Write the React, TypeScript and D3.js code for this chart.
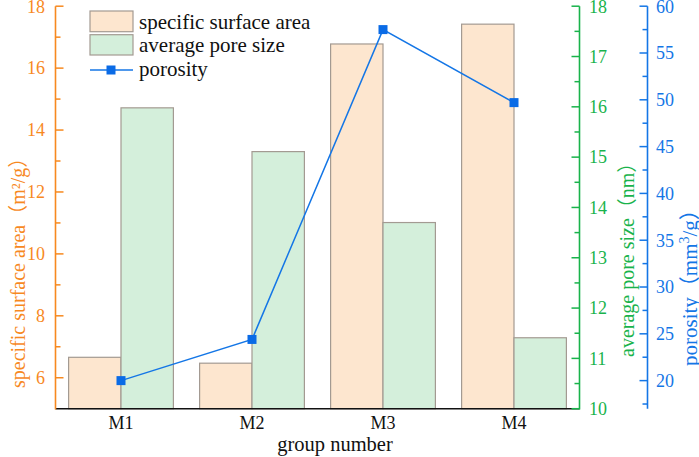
import React from "react";
import * as d3 from "d3";

const categories = ["M1", "M2", "M3", "M4"];
const surfaceArea = [6.66, 6.47, 16.78, 17.42];
const poreSize = [15.98, 15.11, 13.7, 11.41];
const porosity = [20.0, 24.4, 57.5, 49.7];

const leftTicks = [6, 8, 10, 12, 14, 16, 18];
const leftMinor = [7, 9, 11, 13, 15, 17];
const greenTicks = [10, 11, 12, 13, 14, 15, 16, 17, 18];
const greenMinor = [10.5, 11.5, 12.5, 13.5, 14.5, 15.5, 16.5, 17.5];
const blueTicks = [20, 25, 30, 35, 40, 45, 50, 55, 60];
const blueMinor = [17.5, 22.5, 27.5, 32.5, 37.5, 42.5, 47.5, 52.5, 57.5];

const ORANGE = "#F7891F";
const GREEN = "#19B34B";
const BLUE = "#1476E6";
const FONT = "'Liberation Serif', 'Noto Sans CJK SC', serif";

export default function App() {
  const W = 699, H = 457;
  const left = 55.5, right = 579.5, top = 6.2, bottom = 408.7;
  const blueX = 647.5;

  const x = d3.scaleBand<string>().domain(categories).range([left, right]).paddingInner(0.2).paddingOuter(0.1);
  const barW = x.bandwidth() / 2;
  const yL = d3.scaleLinear().domain([5, 18]).range([bottom, top]);
  const yG = d3.scaleLinear().domain([10, 18]).range([bottom, top]);
  const yB = d3.scaleLinear().domain([17, 60]).range([bottom, top]);

  const center = (c: string) => (x(c) as number) + barW;
  const line = d3.line<number>().x((_, i) => center(categories[i])).y((d) => yB(d));

  const barStroke = "#A39A92";
  const tf = { fontFamily: FONT };

  return (
    <svg width={W} height={H} style={{ position: "fixed", left: 0, top: 0, background: "#fff", fontFamily: FONT }}>
      {categories.map((c, i) => (
        <g key={c}>
          <rect x={x(c)} y={yL(surfaceArea[i])} width={barW} height={bottom - yL(surfaceArea[i])}
            fill="#FDE6CF" stroke={barStroke} strokeWidth={1.2} />
          <rect x={(x(c) as number) + barW} y={yG(poreSize[i])} width={barW} height={bottom - yG(poreSize[i])}
            fill="#D4EFDB" stroke={barStroke} strokeWidth={1.2} />
        </g>
      ))}

      <path d={line(porosity) || ""} fill="none" stroke={BLUE} strokeWidth={1.5} />
      {porosity.map((v, i) => (
        <rect key={i} x={center(categories[i]) - 4.5} y={yB(v) - 4.5} width={9} height={9} fill="#0A6BE6" />
      ))}

      <line x1={left} x2={right} y1={bottom} y2={bottom} stroke="#111" strokeWidth={1.6} />
      {categories.map((c) => (
        <text key={c} x={center(c)} y={429} fontSize={18} textAnchor="middle" fill="#111" style={tf}>{c}</text>
      ))}
      <text x={335} y={451} fontSize={20.5} textAnchor="middle" fill="#111" style={tf}>group number</text>

      <line x1={left} x2={left} y1={top} y2={bottom + 0.8} stroke={ORANGE} strokeWidth={1.6} />
      {leftTicks.map((t) => (
        <g key={t}>
          <line x1={left} x2={left + 8} y1={yL(t)} y2={yL(t)} stroke={ORANGE} strokeWidth={1.5} />
          <text x={45} y={yL(t)} dy="0.35em" fontSize={18} textAnchor="end" fill={ORANGE} style={tf}>{t}</text>
        </g>
      ))}
      {leftMinor.map((t) => (
        <line key={t} x1={left} x2={left + 5} y1={yL(t)} y2={yL(t)} stroke={ORANGE} strokeWidth={1.5} />
      ))}
      <text transform={`translate(25,388) rotate(-90)`} fontSize={20} fill={ORANGE} style={tf}>specific surface area（m²/g）</text>

      <line x1={right} x2={right} y1={top} y2={bottom + 0.8} stroke={GREEN} strokeWidth={1.6} />
      {greenTicks.map((t) => (
        <g key={t}>
          <line x1={right} x2={right - 8} y1={yG(t)} y2={yG(t)} stroke={GREEN} strokeWidth={1.5} />
          <text x={589} y={yG(t)} dy="0.35em" fontSize={18} textAnchor="start" fill={GREEN} style={tf}>{t}</text>
        </g>
      ))}
      {greenMinor.map((t) => (
        <line key={t} x1={right} x2={right - 5} y1={yG(t)} y2={yG(t)} stroke={GREEN} strokeWidth={1.5} />
      ))}
      <text transform={`translate(634,357) rotate(-90)`} fontSize={20} fill={GREEN} style={tf}>average pore size（nm）</text>

      <line x1={blueX} x2={blueX} y1={top} y2={bottom} stroke={BLUE} strokeWidth={1.6} />
      {blueTicks.map((t) => (
        <g key={t}>
          <line x1={blueX} x2={blueX - 8} y1={yB(t)} y2={yB(t)} stroke={BLUE} strokeWidth={1.5} />
          <text x={656} y={yB(t)} dy="0.35em" fontSize={18} textAnchor="start" fill={BLUE} style={tf}>{t}</text>
        </g>
      ))}
      {blueMinor.map((t) => (
        <line key={t} x1={blueX} x2={blueX - 5} y1={yB(t)} y2={yB(t)} stroke={BLUE} strokeWidth={1.5} />
      ))}
      <text transform={`translate(697,366) rotate(-90)`} fontSize={21} fill={BLUE} style={tf}>
        porosity（mm<tspan fontSize={14} dy={-8}>3</tspan><tspan dy={8}>/g）</tspan>
      </text>

      <rect x={90} y={11} width={43} height={20.7} fill="#FDE6CF" stroke={barStroke} strokeWidth={1.2} />
      <text x={139} y={21.5} dy="0.35em" fontSize={21} fill="#111" style={tf}>specific surface area</text>
      <rect x={90} y={34.7} width={43} height={20.3} fill="#D4EFDB" stroke={barStroke} strokeWidth={1.2} />
      <text x={139} y={45} dy="0.35em" fontSize={21} fill="#111" style={tf}>average pore size</text>
      <line x1={90} x2={133} y1={70} y2={70} stroke={BLUE} strokeWidth={1.5} />
      <rect x={106.5} y={65.5} width={9} height={9} fill="#0A6BE6" />
      <text x={139} y={69} dy="0.35em" fontSize={21} fill="#111" style={tf}>porosity</text>
    </svg>
  );
}
